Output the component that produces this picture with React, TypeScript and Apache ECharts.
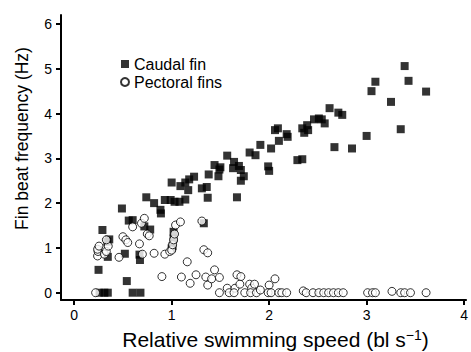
import React, { useEffect, useRef } from "react";
import * as echarts from "echarts";

// Caudal fin (filled squares)
const caudalSpeed = [
  0.26, 0.31, 0.345, 0.6, 0.68,
  0.25, 0.54, 0.25, 0.345, 0.52, 0.67, 0.675,
  0.29, 0.36, 0.34,
  0.49, 0.56, 0.6, 0.72, 0.78,
  0.74, 0.82, 0.885, 0.89,
  0.93, 0.99, 1.03, 1.08, 1.14,
  1.0, 1.09, 1.14, 1.18, 1.23, 1.17,
  1.31, 1.36, 1.37, 1.38,
  1.44, 1.48, 1.49, 1.5,
  1.57, 1.64, 1.63, 1.69, 1.71, 1.74, 1.71, 1.67,
  1.8, 1.86, 1.91,
  1.99, 2.0, 2.02,
  2.06, 2.09, 2.1, 2.18, 2.19,
  2.29, 2.34, 2.34, 2.39, 2.36, 2.4,
  2.46, 2.51, 2.54, 2.57,
  2.62, 2.71, 2.75, 2.67, 2.85,
  3.0, 3.05, 3.09, 3.25, 3.35, 3.39, 3.43, 3.61,
  1.02, 1.02, 1.01, 1.0, 1.33,
];
const caudalFreq = [
  0, 0, 0, 0, 0,
  0.51, 0.26, 0.95, 0.8, 0.87, 0.85, 0.73,
  1.4, 1.19, 1.14,
  1.88, 1.61, 1.62, 1.48, 1.41,
  2.13, 2.0, 1.85, 1.77,
  2.07, 2.07, 2.03, 2.03, 2.08,
  2.46, 2.38, 2.46, 2.53, 2.59, 2.29,
  2.33, 2.36, 2.12, 2.64,
  2.85, 2.6, 2.75, 2.8,
  3.06, 2.92, 2.78, 2.83, 2.74, 2.6, 2.5, 2.13,
  3.13, 3.07, 3.3,
  2.82, 2.72, 3.22,
  3.63, 3.67, 3.39, 3.54, 3.48,
  2.96, 2.98, 3.67, 3.74, 3.57, 3.63,
  3.87, 3.89, 3.87, 3.78,
  4.12, 4.02, 3.97, 3.25, 3.22,
  3.5, 4.5, 4.71, 4.26, 3.65, 5.06, 4.73, 4.49,
  1.36, 1.21, 1.04, 0.99, 1.55,
];

// Pectoral fins (open circles)
const pectoralSpeed = [
  0.22, 0.24, 0.245, 0.24, 0.255, 0.31, 0.33, 0.35, 0.33,
  0.46, 0.5, 0.53, 0.55, 0.6, 0.67, 0.69, 0.72, 0.7, 0.75, 0.77,
  0.82, 0.9, 0.93, 0.98, 1.0, 1.01, 1.02, 1.03, 1.04, 1.09,
  1.1, 1.16, 1.19, 1.25, 1.31, 1.33, 1.37, 1.35, 1.37, 1.41,
  1.44, 1.49, 1.49, 1.57, 1.59, 1.65, 1.64, 1.67, 1.71, 1.7,
  1.75, 1.8, 1.82, 1.81, 1.87, 1.85, 1.91, 2.0, 1.99, 2.06,
  2.02, 2.1, 2.13, 2.18, 2.35, 2.38, 2.45, 2.51, 2.56, 2.61,
  2.66, 2.71, 2.76, 3.01, 3.06, 3.09, 3.26, 3.35, 3.39, 3.45, 3.61,
];
const pectoralFreq = [
  0, 0.82, 0.92, 0.97, 1.04, 0.86, 0.92, 1.04, 1.18,
  0.79, 1.25, 1.18, 1.12, 1.47, 1.09, 1.55, 1.66, 0.86, 1.31, 1.27,
  0.88, 0.36, 0.86, 0.92, 0.95, 1.07, 1.18, 1.31, 1.51, 1.58,
  0.35, 0.69, 0.21, 0.4, 1.6, 0.96, 0.89, 0.35, 0.17, 0.31,
  0.51, 0.34, 0, 0.1, 0, 0.1, 0, 0.4, 0.36, 0.19,
  0, 0.19, 0.1, 0, 0, 0.19, 0.06, 0.17, 0, 0.31,
  0, 0, 0, 0, 0.04, 0, 0, 0, 0, 0,
  0, 0, 0, 0, 0, 0, 0.03, 0, 0, 0, 0,
];

const xTicks = [0, 1, 2, 3, 4];
const yTicks = [0, 1, 2, 3, 4, 5, 6];
const seriesNames = ["Caudal fin", "Pectoral fins"];

const FONT = "'Liberation Sans', Arial, Helvetica, sans-serif";

export default function App() {
  const ref = useRef<HTMLDivElement>(null);
  useEffect(() => {
    if (!ref.current) return;
    const chart = echarts.init(ref.current, null, { renderer: "svg" });
    const caudal = caudalSpeed.map((x, i) => [x, caudalFreq[i]]);
    const pectoral = pectoralSpeed.map((x, i) => [x, pectoralFreq[i]]);
    const axisCommon = {
      type: "value" as const,
      splitLine: { show: false },
      axisLine: { show: true, onZero: false, lineStyle: { color: "#000", width: 2 } },
      axisTick: { show: true, length: 5, lineStyle: { color: "#000", width: 2 } },
      axisLabel: { color: "#000", fontSize: 14, fontFamily: FONT },
    };
    chart.setOption({
      animation: false,
      backgroundColor: "#fff",
      grid: { left: 61, top: 15, right: 0, bottom: 52, containLabel: false },
      xAxis: {
        ...axisCommon,
        min: -0.135,
        max: 4.02,
        axisTick: { ...axisCommon.axisTick, customValues: xTicks },
        axisLabel: { ...axisCommon.axisLabel, customValues: xTicks, margin: 8 },
      },
      yAxis: {
        ...axisCommon,
        min: -0.163,
        max: 6.2,
        axisTick: { ...axisCommon.axisTick, customValues: yTicks },
        axisLabel: { ...axisCommon.axisLabel, customValues: yTicks, margin: 9 },
      },
      legend: {
        orient: "vertical",
        left: 115,
        top: 51,
        itemWidth: 8,
        itemHeight: 8,
        itemGap: 2,
        textStyle: {
          color: "#000",
          fontSize: 16,
          fontFamily: FONT,
          lineHeight: 16,
        },
        data: [
          { name: seriesNames[0], icon: "rect" },
          { name: seriesNames[1], icon: "circle" },
        ],
      },
      graphic: [
        {
          type: "text",
          x: 22,
          y: 138.5,
          rotation: Math.PI / 2,
          style: {
            text: "Fin beat frequency (Hz)",
            fontSize: 17.5,
            fontFamily: FONT,
            fill: "#000",
            align: "center",
            verticalAlign: "middle",
          },
        },
        {
          type: "text",
          x: 275.5,
          y: 339,
          style: {
            text: "{a|Relative swimming speed (bl s}{b|−1}{a|)}",
            align: "center",
            verticalAlign: "middle",
            rich: {
              a: { fontSize: 21, fontFamily: FONT, fill: "#000", lineHeight: 22 },
              b: { fontSize: 14, fontFamily: FONT, fill: "#000", lineHeight: 14, verticalAlign: "top" },
            },
          },
        },
      ],
      series: [
        {
          name: seriesNames[0],
          type: "scatter",
          symbol: "rect",
          symbolSize: 8,
          itemStyle: { color: "#000" },
          emphasis: { disabled: true },
          data: caudal,
        },
        {
          name: seriesNames[1],
          type: "scatter",
          symbol: "circle",
          symbolSize: 8,
          itemStyle: { color: "#fff", borderColor: "#000", borderWidth: 1 },
          emphasis: { disabled: true },
          data: pectoral,
        },
      ],
    });
    return () => chart.dispose();
  }, []);
  return (
    <div
      ref={ref}
      style={{ position: "fixed", left: 0, top: 0, width: 471, height: 352, background: "#fff" }}
    />
  );
}
